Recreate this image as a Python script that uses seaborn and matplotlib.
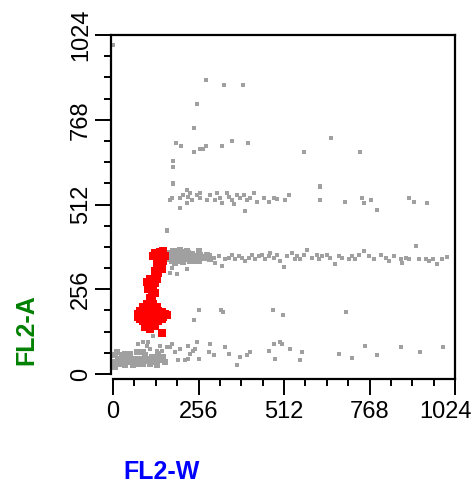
import numpy as np
import pandas as pd
import matplotlib
matplotlib.use('Agg')
import matplotlib.pyplot as plt
import matplotlib.transforms as mtransforms
import seaborn as sns
from matplotlib.ticker import MultipleLocator

sns.set_style('white')
plt.rcParams['font.family'] = ['Liberation Sans', 'DejaVu Sans']

# sparse gray events (FL2-W, FL2-A)
upper_x = [1, 277, 332, 388, 251, 244, 188, 203, 244, 261, 269, 277, 325, 356, 403, 573, 652, 740,
           180, 180, 180, 621]
upper_y = [994, 889, 874, 874, 817, 744, 697, 689, 672, 681, 681, 689, 689, 704, 697, 672, 712, 672,
           642, 624, 576, 567]

doublet_x = [181, 621, 221, 211, 176, 201, 226, 236, 251, 261, 281, 291, 311, 321, 326, 346, 356, 371,
             381, 391, 401, 421, 431, 451, 466, 481, 516, 526, 621, 696, 746, 751, 771, 886, 901, 941,
             201, 221, 396, 789, 171, 306, 361, 411, 491, 341, 261, 231, 161, 161]
doublet_y = [574, 566, 556, 541, 531, 531, 536, 526, 541, 531, 526, 541, 546, 531, 516, 536, 526, 541,
             531, 541, 526, 546, 521, 531, 521, 531, 526, 541, 526, 521, 531, 516, 526, 531, 521, 516,
             501, 516, 491, 494, 526, 526, 514, 531, 528, 546, 546, 546, 431, 436]

singlet_x = [271, 281, 291, 301, 306, 316, 326, 336, 346, 356, 366, 376, 386, 396, 406, 416, 426, 436,
             446, 456, 466, 471, 481, 491, 501, 511, 521, 536, 546, 551, 561, 571, 581, 596, 611, 616,
             626, 641, 651, 666, 676, 686, 706, 716, 726, 736, 751, 766, 781, 801, 816, 826, 841, 861,
             866, 876, 886, 906, 916, 936, 946, 959, 971, 986, 999, 176, 191, 221, 171]
singlet_y = [356, 346, 361, 351, 336, 356, 326, 346, 351, 361, 346, 356, 351, 341, 351, 361, 346, 356,
             361, 346, 356, 366, 351, 361, 341, 324, 356, 366, 346, 356, 346, 361, 376, 351, 361, 346,
             356, 361, 351, 331, 358, 351, 346, 356, 346, 361, 371, 356, 346, 361, 351, 341, 356, 346,
             336, 351, 346, 388, 346, 346, 341, 346, 331, 346, 354, 321, 301, 316, 306]

debris_x = [76, 91, 101, 106, 121, 141, 146, 161, 171, 176, 186, 196, 201, 216, 226, 231, 241, 246,
            251, 256, 286, 291, 301, 336, 346, 371, 381, 401, 411, 466, 481, 486, 501, 506, 531, 561,
            566, 676, 716, 756, 789, 861, 919, 989, 81, 111, 131, 226,
            258, 244, 328, 324, 478, 508, 699]
debris_y = [91, 96, 86, 96, 116, 86, 71, 81, 81, 91, 66, 41, 76, 41, 46, 61, 71, 76,
            96, 46, 66, 91, 56, 81, 61, 28, 51, 56, 66, 71, 91, 46, 98, 91, 76, 41,
            66, 61, 48, 86, 58, 83, 66, 81, 49, 76, 71, 86,
            194, 164, 188, 194, 194, 178, 186]

# dense gray cores (singlet band head and debris near the origin)
core_x = [166, 171, 176, 181, 186, 191, 196, 201, 206, 211, 216, 221, 226, 231, 236, 241, 246, 251,
          256, 261, 171, 186, 201, 216, 231, 246, 191, 211, 226, 206, 176, 196, 221, 241, 256, 166,
          181, 236, 251, 261, 271, 281, 291,
          6, 6, 6, 16, 21, 26, 31, 36, 41, 46, 51, 56, 61, 66, 71, 76, 81, 86, 91, 96, 101, 106,
          111, 116, 121, 126, 131, 136, 141, 151, 156, 11, 21, 36, 51, 71, 91, 61]
core_y = [351, 361, 341, 371, 351, 361, 341, 376, 354, 364, 346, 371, 356, 341, 364, 351, 356, 351,
          371, 361, 346, 336, 346, 358, 361, 356, 371, 338, 366, 368, 356, 356, 361, 341, 341, 366,
          358, 351, 354, 361, 351, 361, 346,
          56, 36, 21, 46, 31, 56, 41, 26, 51, 36, 61, 41, 26, 46, 31, 46, 38, 46, 31, 56, 38, 46,
          31, 51, 36, 46, 26, 61, 41, 51, 36, 66, 46, 61, 46, 66, 66, 41]

# gated (red) events: G0/G1 blob and its tail
gate_x = [76, 81, 86, 91, 91, 96, 101, 101, 101, 106, 106, 111, 111, 111, 116, 116, 121, 121, 126,
          126, 131, 136, 136, 141, 146, 151, 156, 161, 81, 96, 86, 131, 106, 121, 146, 76, 101, 126,
          91, 111, 116, 136, 96, 126, 111, 101]
gate_y = [181, 191, 171, 201, 161, 186, 211, 176, 146, 196, 161, 216, 181, 141, 201, 166, 186, 156,
          196, 171, 181, 191, 161, 176, 186, 171, 181, 178, 166, 156, 186, 201, 176, 211, 166, 171,
          191, 151, 176, 191, 151, 176, 141, 146, 136, 206]
tail_x = [111, 116, 106, 116, 121, 126, 131, 121, 131, 136, 126, 141, 136, 146, 131, 141, 146, 136,
          151, 141, 151, 131, 146, 111, 126, 116, 146, 121, 126, 156, 151, 101]
tail_y = [231, 241, 256, 266, 261, 276, 286, 286, 296, 306, 311, 321, 331, 336, 341, 346, 354, 358,
          361, 368, 371, 326, 316, 286, 246, 221, 124, 356, 366, 356, 341, 278]

ticks = [0, 256, 512, 768, 1024]

gray = pd.DataFrame({'FL2-W': upper_x + doublet_x + singlet_x + debris_x,
                     'FL2-A': upper_y + doublet_y + singlet_y + debris_y})
core = pd.DataFrame({'FL2-W': core_x, 'FL2-A': core_y})
red = pd.DataFrame({'FL2-W': gate_x + tail_x, 'FL2-A': gate_y + tail_y})

fig = plt.figure(figsize=(4.77, 4.88), dpi=100)
ax = fig.add_axes([111 / 477, 1 - 379 / 488, 344 / 477, 344 / 488])

sns.scatterplot(data=gray, x='FL2-W', y='FL2-A', ax=ax, color='#a0a0a0', marker='s', s=6, linewidth=0)
sns.scatterplot(data=core, x='FL2-W', y='FL2-A', ax=ax, color='#a0a0a0', marker='s', s=22, linewidth=0)
sns.scatterplot(data=red, x='FL2-W', y='FL2-A', ax=ax, color='#ff0000', marker='s', s=26, linewidth=0)

ax.set_xlim(-6, 1024)
ax.set_ylim(-15, 1024)
ax.set_xticks(ticks)
ax.set_yticks(ticks)
ax.set_xticklabels([str(t) for t in ticks])
ax.set_yticklabels([str(t) for t in ticks], rotation=90, va='center')
ax.xaxis.set_minor_locator(MultipleLocator(64))
ax.yaxis.set_minor_locator(MultipleLocator(64))
ax.tick_params(which='major', direction='out', length=11.5, width=1.4, labelsize=17, pad=2,
               color='black', labelcolor='black')
ax.tick_params(which='minor', direction='out', length=5, width=1.4, color='black')
ax.tick_params(axis='x', which='major', pad=4)
ax.tick_params(bottom=True, left=True, which='both')
ax.set_xlabel('')
ax.set_ylabel('')

# last x label sits inside the figure edge, as in the reference
last = ax.get_xticklabels()[-1]
last.set_transform(last.get_transform() + mtransforms.ScaledTranslation(-9 / 100, 0, fig.dpi_scale_trans))

for side in ['left', 'right', 'top', 'bottom']:
    ax.spines[side].set_visible(True)
    ax.spines[side].set_color('black')
    ax.spines[side].set_linewidth(1.6)
ax.spines['left'].set_bounds(0, 1024)
ax.spines['bottom'].set_bounds(0, 1024)

fig.text(26 / 477, 1 - 330 / 488, 'FL2-A', rotation=90, color='#008000', fontsize=18,
         fontweight='bold', ha='center', va='center')
fig.text(162 / 477, 1 - 472 / 488, 'FL2-W', color='#0000ff', fontsize=18,
         fontweight='bold', ha='center', va='center')

fig.savefig('out.png', dpi=100)
